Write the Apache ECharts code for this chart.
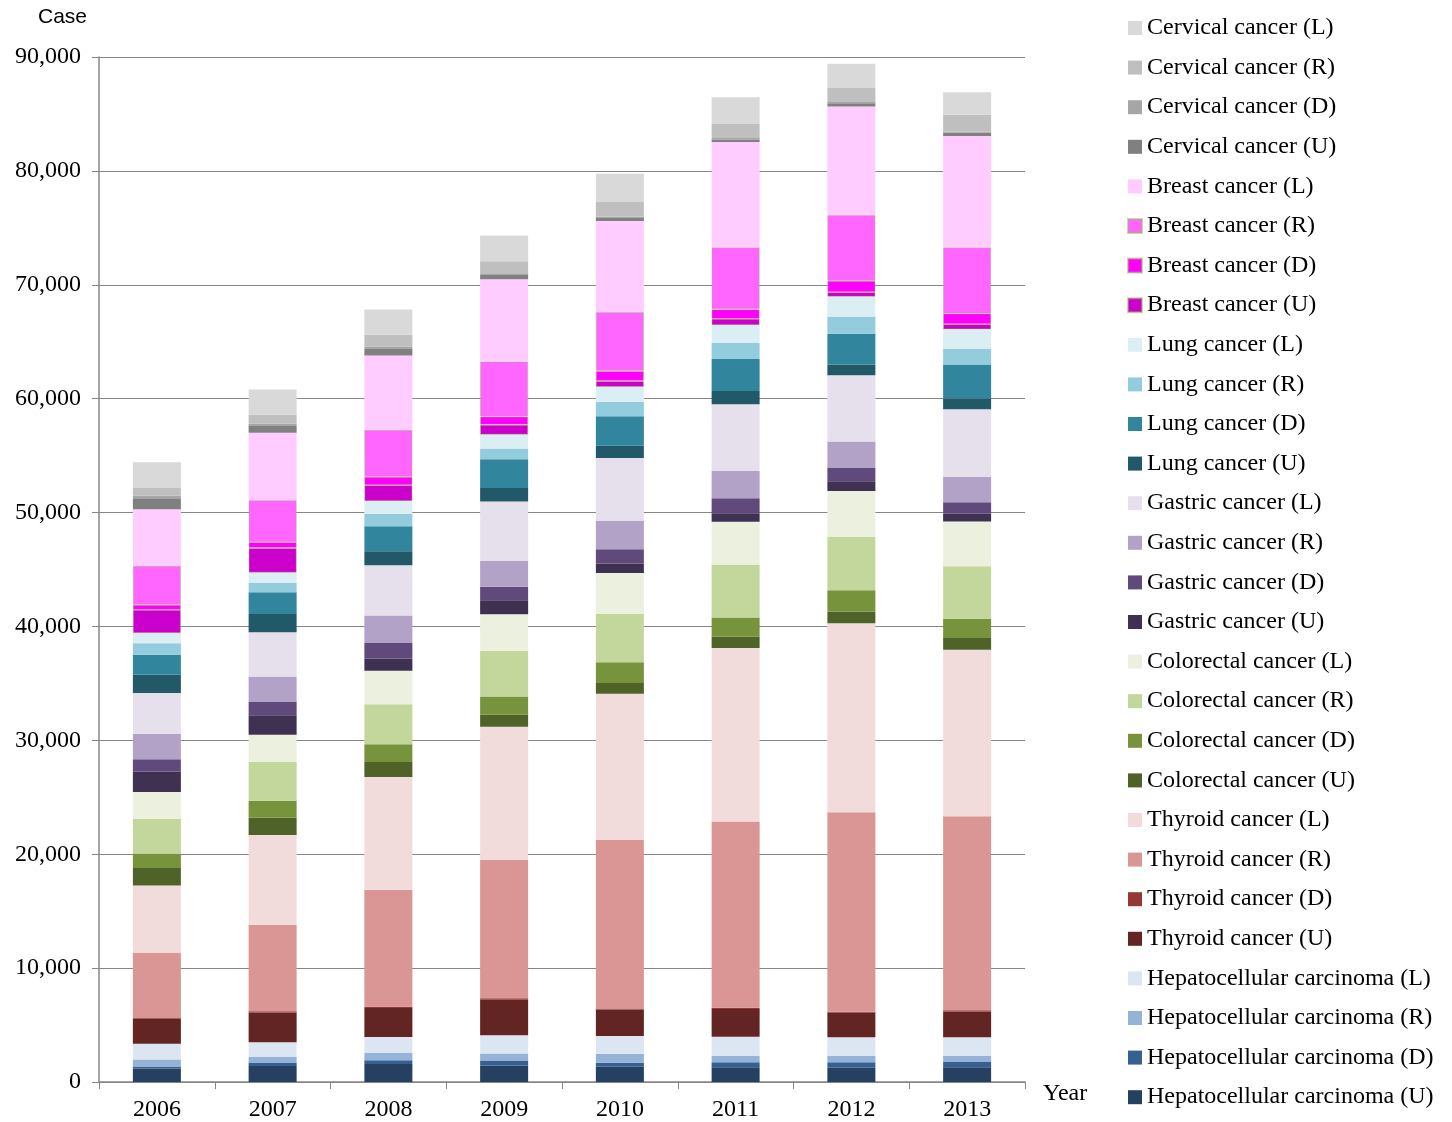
<!DOCTYPE html>
<html>
<head>
<meta charset="utf-8">
<title>Cancer cases by year</title>
<script src="https://cdn.jsdelivr.net/npm/echarts@6/dist/echarts.min.js"></script>
<style>
  html, body { margin: 0; padding: 0; background: #ffffff; }
  #chart { width: 1452px; height: 1122px; }
</style>
</head>
<body>
<div id="chart"></div>
<script>
// Years on the category axis
const years = ['2006', '2007', '2008', '2009', '2010', '2011', '2012', '2013'];

// Cases per cancer type and stage (U, D, R, L), stacked bottom to top
const hepatocellularU = [1190, 1400, 1590, 1450, 1340, 1290, 1270, 1300];
const hepatocellularD = [180, 320, 310, 430, 360, 450, 460, 500];
const hepatocellularR = [610, 480, 650, 620, 780, 560, 580, 500];
const hepatocellularL = [1370, 1280, 1410, 1600, 1550, 1680, 1620, 1640];

const thyroidU = [2230, 2620, 2540, 3130, 2330, 2420, 2150, 2260];
const thyroidD = [90, 110, 100, 120, 100, 110, 90, 100];
const thyroidR = [5650, 7600, 10270, 12140, 14780, 16360, 17520, 17040];
const thyroidL = [5940, 7880, 9910, 11710, 12860, 15240, 16590, 14620];

const colorectalU = [1530, 1520, 1320, 1060, 940, 1000, 1040, 1020];
const colorectalD = [1270, 1480, 1550, 1590, 1810, 1680, 1850, 1690];
const colorectalR = [3060, 3400, 3520, 4000, 4240, 4650, 4680, 4610];
const colorectalL = [2340, 2400, 2950, 3230, 3610, 3760, 4050, 3930];

const gastricU = [1800, 1720, 1060, 1210, 830, 750, 850, 680];
const gastricD = [1080, 1200, 1370, 1200, 1240, 1300, 1200, 1010];
const gastricR = [2230, 2200, 2420, 2260, 2480, 2400, 2300, 2250];
const gastricL = [3590, 3880, 4400, 5210, 5530, 5850, 5800, 5910];

const lungU = [1590, 1600, 1230, 1200, 1090, 1180, 940, 950];
const lungD = [1760, 1920, 2200, 2510, 2580, 2800, 2720, 2980];
const lungR = [1010, 800, 1100, 960, 1290, 1400, 1510, 1410];
const lungL = [900, 920, 1100, 1210, 1290, 1570, 1730, 1690];

const breastU = [2040, 2160, 1400, 870, 520, 560, 400, 450];
const breastD = [430, 520, 730, 720, 880, 840, 1000, 950];
const breastR = [3420, 3680, 4140, 4820, 5170, 5440, 5770, 5800];
const breastL = [4970, 5920, 6520, 7230, 8000, 9240, 9530, 9780];

const cervicalU = [970, 600, 570, 380, 260, 230, 290, 280];
const cervicalD = [240, 200, 220, 160, 110, 120, 100, 100];
const cervicalR = [660, 800, 1060, 1050, 1290, 1240, 1230, 1480];
const cervicalL = [2260, 2200, 2200, 2250, 2480, 2350, 2140, 1970];

// Series definitions: name, values, fill colour (bottom of stack first)
const seriesDefs = [
  ['Hepatocellular carcinoma (U)', hepatocellularU, '#254061'],
  ['Hepatocellular carcinoma (D)', hepatocellularD, '#376092'],
  ['Hepatocellular carcinoma (R)', hepatocellularR, '#95b3d7'],
  ['Hepatocellular carcinoma (L)', hepatocellularL, '#dce6f2'],
  ['Thyroid cancer (U)', thyroidU, '#632523'],
  ['Thyroid cancer (D)', thyroidD, '#953735'],
  ['Thyroid cancer (R)', thyroidR, '#d99694'],
  ['Thyroid cancer (L)', thyroidL, '#f2dcdb'],
  ['Colorectal cancer (U)', colorectalU, '#4f6228'],
  ['Colorectal cancer (D)', colorectalD, '#77933c'],
  ['Colorectal cancer (R)', colorectalR, '#c3d69b'],
  ['Colorectal cancer (L)', colorectalL, '#ebf1de'],
  ['Gastric cancer (U)', gastricU, '#3f3151'],
  ['Gastric cancer (D)', gastricD, '#604a7b'],
  ['Gastric cancer (R)', gastricR, '#b3a2c7'],
  ['Gastric cancer (L)', gastricL, '#e6e0ec'],
  ['Lung cancer (U)', lungU, '#215968'],
  ['Lung cancer (D)', lungD, '#31859c'],
  ['Lung cancer (R)', lungR, '#93cddd'],
  ['Lung cancer (L)', lungL, '#dbeef4'],
  ['Breast cancer (U)', breastU, '#cc00cc'],
  ['Breast cancer (D)', breastD, '#ff00ff'],
  ['Breast cancer (R)', breastR, '#ff66ff'],
  ['Breast cancer (L)', breastL, '#ffccff'],
  ['Cervical cancer (U)', cervicalU, '#808080'],
  ['Cervical cancer (D)', cervicalD, '#a6a6a6'],
  ['Cervical cancer (R)', cervicalR, '#bfbfbf'],
  ['Cervical cancer (L)', cervicalL, '#d9d9d9']
];

// Breast R/D/U blocks carry a faint green outline
const outlined = ['Breast cancer (U)', 'Breast cancer (D)', 'Breast cancer (R)'];

const serif = 'Liberation Serif, Times New Roman, serif';

const series = seriesDefs.map(([name, values, color]) => ({
  name: name,
  type: 'bar',
  stack: 'cases',
  barWidth: 48,
  data: values,
  itemStyle: outlined.includes(name)
    ? { color: color, borderColor: 'rgba(155,187,89,0.55)', borderWidth: 0.8 }
    : { color: color },
  emphasis: { disabled: true }
}));

const chart = echarts.init(document.getElementById('chart'), null, { renderer: 'canvas' });

chart.setOption({
  animation: false,
  backgroundColor: '#ffffff',
  textStyle: { fontFamily: serif, color: '#000000' },
  grid: { left: 99, right: 427, top: 57, bottom: 40 },
  legend: {
    orient: 'vertical',
    left: 1127,
    top: 16,
    padding: 0,
    itemWidth: 14,
    itemHeight: 14,
    itemGap: 15.6,
    icon: 'rect',
    selectedMode: false,
    data: seriesDefs.map(d => d[0]).reverse(),
    textStyle: { fontFamily: serif, fontSize: 24, lineHeight: 24, color: '#000000', padding: [0, 0, 0, 0] }
  },
  xAxis: {
    type: 'category',
    data: years,
    name: 'Year',
    nameLocation: 'end',
    nameGap: 18,
    nameTextStyle: { fontFamily: serif, fontSize: 24, color: '#000000', align: 'left', verticalAlign: 'top', lineHeight: 24 },
    axisLine: { lineStyle: { color: '#868686', width: 1.5 } },
    axisTick: { show: true, length: 7, inside: false, lineStyle: { color: '#868686' } },
    axisLabel: { fontFamily: serif, fontSize: 24, color: '#000000', margin: 16 },
    splitLine: { show: false }
  },
  yAxis: {
    type: 'value',
    min: 0,
    max: 90000,
    interval: 10000,
    axisLine: { show: true, lineStyle: { color: '#868686', width: 1.5 } },
    axisTick: { show: true, length: 7, inside: false, lineStyle: { color: '#868686' } },
    axisLabel: {
      fontFamily: serif,
      fontSize: 24,
      color: '#000000',
      margin: 18,
      padding: [4, 0, 0, 0],
      formatter: v => v.toLocaleString('en-US')
    },
    splitLine: { show: true, lineStyle: { color: '#868686', width: 1 } }
  },
  graphic: [
    {
      type: 'text',
      left: 38,
      top: 7,
      style: { text: 'Case', font: '21px Liberation Sans, Arial, sans-serif', fill: '#000000' }
    }
  ],
  series: series
});
</script>
</body>
</html>
